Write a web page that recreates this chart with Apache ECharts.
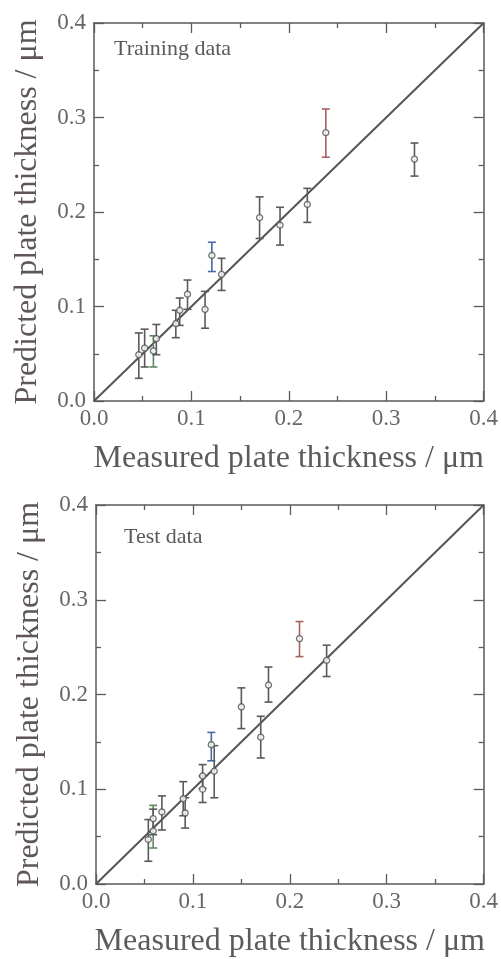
<!DOCTYPE html>
<html>
<head>
<meta charset="utf-8">
<script src="https://cdn.jsdelivr.net/npm/echarts@6/dist/echarts.min.js"></script>
<style>
  html, body { margin: 0; padding: 0; background: #fff; }
  #chart { width: 501px; height: 959px; }
</style>
</head>
<body>
<div id="chart"></div>
<script>
// training set: measured vs predicted plate thickness (um), with error bar ends
const trainMeasured  = [0.046, 0.052, 0.061, 0.064, 0.084, 0.088, 0.096, 0.114, 0.121, 0.131, 0.170, 0.191, 0.219, 0.238, 0.329];
const trainPredicted = [0.049, 0.056, 0.053, 0.066, 0.082, 0.096, 0.113, 0.097, 0.154, 0.134, 0.194, 0.186, 0.208, 0.284, 0.256];
const trainLow       = [0.024, 0.036, 0.036, 0.049, 0.067, 0.080, 0.097, 0.077, 0.137, 0.117, 0.172, 0.165, 0.189, 0.258, 0.238];
const trainHigh      = [0.072, 0.076, 0.069, 0.081, 0.096, 0.109, 0.128, 0.116, 0.168, 0.151, 0.216, 0.205, 0.225, 0.309, 0.273];

// test set
const testMeasured  = [0.054, 0.059, 0.059, 0.068, 0.090, 0.092, 0.110, 0.110, 0.119, 0.122, 0.150, 0.170, 0.178, 0.210, 0.238];
const testPredicted = [0.047, 0.056, 0.069, 0.076, 0.090, 0.075, 0.114, 0.100, 0.147, 0.119, 0.187, 0.155, 0.210, 0.259, 0.236];
const testLow       = [0.024, 0.038, 0.052, 0.057, 0.072, 0.059, 0.101, 0.086, 0.130, 0.091, 0.164, 0.133, 0.192, 0.240, 0.219];
const testHigh      = [0.068, 0.083, 0.079, 0.093, 0.108, 0.091, 0.126, 0.114, 0.160, 0.146, 0.207, 0.177, 0.229, 0.277, 0.252];

const identityLine = [[0, 0], [0.4, 0.4]];

// the scan tints a few error bars
const trainTint = {2: '#5c8a5c', 8: '#4a68a8', 13: '#a86060'};
const testTint  = {1: '#5c8a5c', 8: '#4a68a8', 13: '#a86060'};

const INK = '#5a5a5a';
const FONT = '"Liberation Serif", "DejaVu Serif", serif';

function barData(xs, lo, hi, tint) {
  return xs.map((x, i) => ({
    value: [x, lo[i], hi[i]],
    itemStyle: { color: tint[i] || INK }
  }));
}

function renderErrorBar(params, api) {
  const top = api.coord([api.value(0), api.value(2)]);
  const bot = api.coord([api.value(0), api.value(1)]);
  const hw = 4;
  const style = { stroke: api.visual('color'), lineWidth: 1.6 };
  return {
    type: 'group',
    children: [
      { type: 'line', shape: { x1: top[0], y1: top[1], x2: bot[0], y2: bot[1] }, style },
      { type: 'line', shape: { x1: top[0] - hw, y1: top[1], x2: top[0] + hw, y2: top[1] }, style },
      { type: 'line', shape: { x1: bot[0] - hw, y1: bot[1], x2: bot[0] + hw, y2: bot[1] }, style }
    ]
  };
}

const tickStyle = { color: INK, width: 1.3 };

function mainX(grid) {
  return {
    type: 'value', gridIndex: grid, min: 0, max: 0.4, interval: 0.1,
    name: 'Measured plate thickness / μm', nameLocation: 'middle', nameGap: 42,
    nameTextStyle: { fontFamily: FONT, fontSize: 32, color: '#5e5a5c' },
    axisLine: { show: true, onZero: false, lineStyle: { color: INK, width: 1.5 } },
    axisTick: { show: true, inside: true, length: 10, lineStyle: tickStyle },
    minorTick: { show: true, splitNumber: 2, length: 5, lineStyle: tickStyle },
    axisLabel: { fontFamily: FONT, fontSize: 23, color: '#666', margin: 6,
      formatter: v => v.toFixed(1) },
    splitLine: { show: false }
  };
}
function mirrorX(grid) {
  return {
    type: 'value', gridIndex: grid, min: 0, max: 0.4, interval: 0.1, position: 'top',
    axisLine: { show: true, onZero: false, lineStyle: { color: INK, width: 1.5 } },
    axisTick: { show: true, inside: true, length: 10, lineStyle: tickStyle },
    minorTick: { show: true, splitNumber: 2, length: 5, lineStyle: tickStyle },
    axisLabel: { show: false }, splitLine: { show: false }
  };
}
function mainY(grid) {
  return {
    type: 'value', gridIndex: grid, min: 0, max: 0.4, interval: 0.1,
    name: 'Predicted plate thickness / μm', nameLocation: 'middle', nameGap: 50, nameRotate: 90,
    nameTextStyle: { fontFamily: FONT, fontSize: 32, color: '#5e5659' },
    axisLine: { show: true, onZero: false, lineStyle: { color: INK, width: 1.5 } },
    axisTick: { show: true, inside: true, length: 10, lineStyle: tickStyle },
    minorTick: { show: true, splitNumber: 2, length: 5, lineStyle: tickStyle },
    axisLabel: { fontFamily: FONT, fontSize: 23, color: '#666', margin: 8,
      formatter: v => v.toFixed(1) },
    splitLine: { show: false }
  };
}
function mirrorY(grid) {
  return {
    type: 'value', gridIndex: grid, min: 0, max: 0.4, interval: 0.1, position: 'right',
    axisLine: { show: true, onZero: false, lineStyle: { color: INK, width: 1.5 } },
    axisTick: { show: true, inside: true, length: 10, lineStyle: tickStyle },
    minorTick: { show: true, splitNumber: 2, length: 5, lineStyle: tickStyle },
    axisLabel: { show: false }, splitLine: { show: false }
  };
}

function panelSeries(axisIdx, xs, ys, lo, hi, tint) {
  return [
    {
      type: 'line', xAxisIndex: axisIdx, yAxisIndex: axisIdx, data: identityLine,
      symbol: 'none', lineStyle: { color: '#555', width: 2 }, silent: true, z: 1
    },
    {
      type: 'custom', xAxisIndex: axisIdx, yAxisIndex: axisIdx,
      data: barData(xs, lo, hi, tint), renderItem: renderErrorBar, z: 2
    },
    {
      type: 'scatter', xAxisIndex: axisIdx, yAxisIndex: axisIdx,
      data: xs.map((x, i) => [x, ys[i]]),
      symbol: 'circle', symbolSize: 6,
      itemStyle: { color: '#fff', borderColor: '#555', borderWidth: 1.4 }, z: 3
    }
  ];
}

const chart = echarts.init(document.getElementById('chart'), null, { renderer: 'canvas' });
chart.setOption({
  backgroundColor: '#fff',
  animation: false,
  title: [
    { text: 'Training data', left: 109, top: 33,
      textStyle: { fontFamily: FONT, fontSize: 22, fontWeight: 'normal', color: '#5a5a5a' } },
    { text: 'Test data', left: 119, top: 521,
      textStyle: { fontFamily: FONT, fontSize: 22, fontWeight: 'normal', color: '#5a5a5a' } }
  ],
  grid: [
    { left: 94, top: 23, width: 392, height: 378 },
    { left: 96, top: 505, width: 391, height: 379 }
  ],
  xAxis: [mainX(0), mainX(1), mirrorX(0), mirrorX(1)],
  yAxis: [mainY(0), mainY(1), mirrorY(0), mirrorY(1)],
  series: [
    ...panelSeries(0, trainMeasured, trainPredicted, trainLow, trainHigh, trainTint),
    ...panelSeries(1, testMeasured, testPredicted, testLow, testHigh, testTint)
  ]
});
</script>
</body>
</html>
